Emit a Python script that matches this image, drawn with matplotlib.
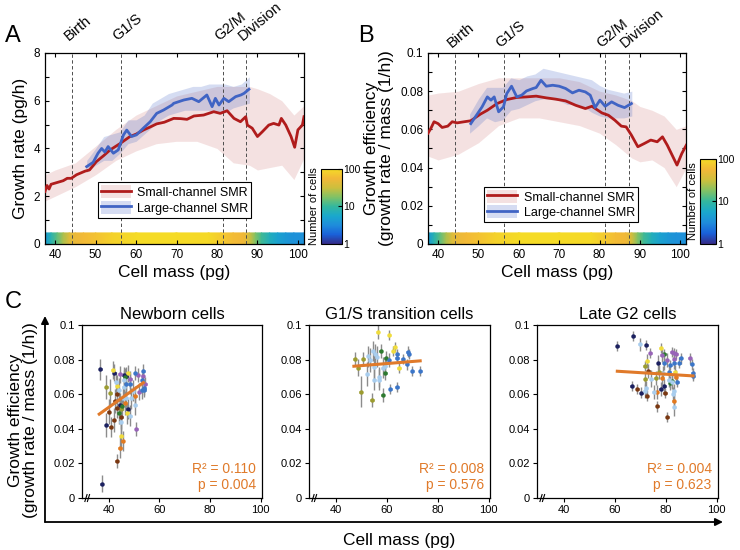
import numpy as np
import matplotlib
matplotlib.use("Agg")
import matplotlib.pyplot as plt
from matplotlib.colors import LinearSegmentedColormap, LogNorm
from matplotlib.cm import ScalarMappable
from matplotlib.patches import Patch, FancyArrowPatch
from matplotlib.lines import Line2D

plt.rcParams['font.family'] = ['Liberation Sans', 'DejaVu Sans']
plt.rcParams['axes.linewidth'] = 0.9

# cell-cycle landmarks
phase_names = ['Birth', 'G1/S', 'G2/M', 'Division']
phase_mass = [44.2, 56.3, 81.4, 87.2]

# number of cells along the mass axis (colour strip)
strip_mass = [37.5, 39.0, 40.5, 42.0, 43.5, 45.0, 47.0, 50.0, 54.0, 60.0, 70.0, 78.0,
              81.0, 84.0, 86.5, 88.0, 89.5, 91.0, 93.0, 95.0, 97.0, 99.0, 101.5]
strip_cells = [4, 8, 14, 25, 40, 50, 58, 65, 85, 100, 100, 95,
               75, 60, 55, 35, 18, 11, 7, 5, 4, 3.5, 3.5]

# A: growth rate (pg/h)
red_a_x = [37.5, 38, 38.5, 39, 40, 41, 42, 43, 44, 45.3, 46, 47.4, 48.5, 50.2, 52, 53.6, 56,
           58.5, 60, 61.8, 63.5, 65.1, 67, 69.3, 71, 72.6, 74.3, 76.7, 79.2, 80.8, 82.5, 84.2,
           85.8, 87.1, 87.5, 88.7, 90.0, 91.2, 92.8, 94.0, 95.3, 95.9, 97.0, 98.3, 99.2, 100.0,
           101.1, 101.5]
red_a_y = [2.2, 2.45, 2.3, 2.5, 2.55, 2.6, 2.65, 2.75, 2.75, 2.9, 2.95, 3.05, 3.1, 3.45, 3.7,
           3.94, 4.2, 4.5, 4.6, 4.77, 4.9, 5.03, 5.1, 5.26, 5.25, 5.22, 5.36, 5.4, 5.54, 5.47,
           5.58, 5.26, 5.12, 5.33, 4.98, 4.85, 4.5, 4.7, 4.98, 5.05, 4.98, 5.26, 4.98, 4.5,
           4.05, 4.78, 4.98, 5.33]
band_x = [37.5, 40, 45, 50, 55, 60, 65, 70, 75, 80, 84, 88, 90, 93, 96, 99, 101.5]
red_a_lo = [1.8, 2.0, 2.4, 2.9, 3.5, 3.9, 4.2, 4.3, 4.3, 4.0, 3.4, 3.3, 3.1, 3.2, 3.3, 2.7, 3.6]
red_a_hi = [2.9, 3.1, 3.4, 4.1, 4.8, 5.4, 5.8, 6.2, 6.4, 6.6, 6.6, 6.6, 6.5, 6.3, 6.0, 5.4, 5.8]

blue_a_x = [47.8, 49.4, 50.6, 51.5, 52.3, 53.1, 54.4, 55.6, 56.9, 57.7, 58.9, 60.1, 61.8, 63.5,
            65.1, 66.8, 68.9, 69.3, 71.8, 73.8, 75.5, 77.5, 78.8, 79.6, 80.5, 81.7, 82.9, 84.6,
            85.9, 86.7, 87.9]
blue_a_y = [3.24, 3.42, 3.8, 4.0, 3.85, 4.08, 3.8, 3.94, 4.57, 4.77, 4.5, 4.57, 4.85, 5.12,
            5.47, 5.61, 5.82, 5.89, 6.03, 6.1, 5.96, 6.24, 5.75, 6.1, 5.82, 6.1, 5.96, 6.17,
            6.24, 6.31, 6.48]
blue_band_x = [47.8, 50, 52, 54, 56, 58, 60, 62, 64, 66, 68, 70, 72, 74, 76, 78, 80, 82, 84, 86, 88]
blue_a_lo = [3.0, 3.3, 3.5, 3.5, 3.8, 4.2, 4.3, 4.6, 4.9, 5.2, 5.4, 5.5, 5.6, 5.6, 5.6, 5.6,
             5.5, 5.5, 5.7, 5.8, 5.9]
blue_a_hi = [3.5, 4.0, 4.5, 4.6, 4.7, 5.2, 5.2, 5.4, 5.9, 6.1, 6.3, 6.4, 6.5, 6.6, 6.6, 6.7,
             6.7, 6.7, 6.6, 6.7, 7.0]

# B: growth efficiency (1/h)
red_b_x = [37.5, 38.2, 39, 40, 41, 42.4, 43.5, 44.7, 46.5, 48.1, 50.5, 52.2, 54.6, 57, 59.5,
           61.9, 64.3, 66.8, 69.2, 71.6, 74.1, 76.5, 78.1, 80.6, 82.2, 83.8, 85.4, 86.6, 87.9,
           89.5, 91.1, 92.7, 94.3, 95.6, 96.8, 98.0, 99.2, 100.4, 101.5]
red_b_y = [0.058, 0.0605, 0.064, 0.063, 0.061, 0.0617, 0.064, 0.0634, 0.064, 0.0645, 0.068,
           0.070, 0.0735, 0.0756, 0.0767, 0.077, 0.0774, 0.0765, 0.0758, 0.0749, 0.0726,
           0.0709, 0.0721, 0.0686, 0.0674, 0.0648, 0.0617, 0.0613, 0.057, 0.0509, 0.0526,
           0.0544, 0.0535, 0.0561, 0.0517, 0.0465, 0.0413, 0.0474, 0.0517]
red_b_lo = [0.046, 0.044, 0.047, 0.053, 0.062, 0.066, 0.066, 0.064, 0.062, 0.058, 0.052,
            0.045, 0.043, 0.044, 0.040, 0.030, 0.040]
red_b_hi = [0.078, 0.079, 0.080, 0.084, 0.087, 0.087, 0.087, 0.087, 0.085, 0.080, 0.078,
            0.075, 0.072, 0.070, 0.067, 0.060, 0.062]

blue_b_x = [48.1, 49.7, 50.9, 52.2, 53.1, 53.9, 55.0, 56.2, 57.0, 58.2, 59.5, 60.7, 61.9, 63.5,
            64.3, 65.5, 66.8, 68.4, 70.0, 71.6, 73.3, 74.9, 76.5, 77.7, 78.9, 80.1, 81.4, 83.0,
            84.6, 86.2, 87.9]
blue_b_y = [0.063, 0.068, 0.0718, 0.077, 0.0753, 0.077, 0.0692, 0.0718, 0.0787, 0.0826, 0.077,
            0.0779, 0.0801, 0.0814, 0.0819, 0.0857, 0.0826, 0.0831, 0.0826, 0.0814, 0.0791,
            0.0805, 0.0796, 0.0779, 0.0714, 0.0753, 0.0721, 0.0744, 0.0726, 0.0714, 0.0735]
blue_b_lo = [0.058, 0.062, 0.066, 0.064, 0.065, 0.070, 0.071, 0.073, 0.075, 0.076, 0.076,
             0.075, 0.073, 0.073, 0.072, 0.069, 0.067, 0.066, 0.066, 0.066, 0.067]
blue_b_hi = [0.068, 0.076, 0.082, 0.082, 0.082, 0.087, 0.086, 0.088, 0.089, 0.092, 0.091,
             0.090, 0.089, 0.088, 0.087, 0.086, 0.083, 0.081, 0.080, 0.079, 0.080]

# C: single cells, newborn
nb_mass = [36.7, 37.3, 39.0, 39.0, 40.6, 40.9, 40.0, 41.7, 42.2, 42.1, 43.3, 44.5, 45.0, 45.6,
           43.0, 43.5, 44.0, 43.3, 44.0, 43.3, 45.0, 44.5, 44.8, 45.0, 45.2, 44.5, 46.0, 46.5,
           47.0, 47.5, 47.0, 46.0, 46.0, 46.5, 47.5, 47.3, 48.5, 47.0, 48.5, 48.5, 49.0, 50.5,
           50.5, 50.5, 51.5, 51.0, 52.0, 53.0, 53.7, 53.5, 53.3, 54.0, 54.5, 54.0, 49.5, 45.5, 42.5]
nb_eff = [0.0744, 0.0083, 0.0420, 0.0640, 0.0606, 0.0410, 0.0500, 0.0740, 0.0725, 0.0450,
          0.0215, 0.0290, 0.0360, 0.0330, 0.0670, 0.0650, 0.0625, 0.0600, 0.0490, 0.0520,
          0.0515, 0.0540, 0.0440, 0.0470, 0.0530, 0.0715, 0.0710, 0.0700, 0.0708, 0.0720,
          0.0660, 0.0680, 0.0640, 0.0550, 0.0514, 0.0490, 0.0477, 0.0580, 0.0660, 0.0687,
          0.0577, 0.0590, 0.0540, 0.0725, 0.0710, 0.0398, 0.0615, 0.0625, 0.0735, 0.0706,
          0.0680, 0.0637, 0.0660, 0.0625, 0.0620, 0.0580, 0.0560]
nb_err = [0.006, 0.005, 0.007, 0.007, 0.008, 0.006, 0.007, 0.005, 0.005, 0.007, 0.004, 0.006,
          0.008, 0.006, 0.006, 0.006, 0.007, 0.007, 0.006, 0.006, 0.007, 0.007, 0.007, 0.007,
          0.006, 0.005, 0.005, 0.005, 0.005, 0.005, 0.006, 0.006, 0.006, 0.007, 0.006, 0.006,
          0.006, 0.007, 0.006, 0.005, 0.006, 0.006, 0.006, 0.004, 0.004, 0.004, 0.005, 0.005,
          0.004, 0.004, 0.004, 0.004, 0.004, 0.004, 0.006, 0.007, 0.007]
nb_group = ['navy', 'navy', 'navy', 'olv', 'olv', 'brn', 'brn', 'yel', 'navy', 'brn', 'brn',
            'org', 'yel', 'org', 'lbl', 'yel', 'lbl', 'brn', 'grn', 'brn', 'olv', 'navy', 'lbl',
            'brn', 'grn', 'pur', 'navy', 'grn', 'navy', 'yel', 'blu', 'lbl', 'lbl', 'org', 'navy',
            'yel', 'lbl', 'lbl', 'blu', 'pur', 'lbl', 'org', 'lbl', 'blu', 'pur', 'pur', 'pur',
            'blu', 'blu', 'pur', 'blu', 'blu', 'pur', 'blu', 'lbl', 'lbl', 'brn']
nb_fit_x = [36.3, 53.7]
nb_fit_y = [0.0485, 0.0667]

# C: G1/S transition
g1_mass = [47.5, 48.8, 49.7, 50.8, 52.3, 54.2, 52.7, 53.6, 54.4, 55.4, 55.0, 55.0, 57.1, 57.1,
           56.0, 56.5, 57.6, 58.4, 58.4, 59.3, 59.4, 59.6, 60.7, 61.3, 61.0, 62.6, 63.2, 64.0,
           64.0, 64.2, 64.8, 66.2, 67.8, 68.2, 68.7, 70.0, 73.1]
g1_eff = [0.0803, 0.0754, 0.0615, 0.0803, 0.0716, 0.0569, 0.0820, 0.0800, 0.0850, 0.0830,
          0.0758, 0.0685, 0.0700, 0.0685, 0.0816, 0.0961, 0.0850, 0.0598, 0.0754, 0.0762,
          0.0725, 0.0812, 0.0800, 0.0629, 0.0944, 0.0849, 0.0874, 0.0642, 0.0812, 0.0830,
          0.0754, 0.0805, 0.0772, 0.0847, 0.0832, 0.0735, 0.0735]
g1_err = [0.004, 0.005, 0.009, 0.004, 0.007, 0.004, 0.006, 0.007, 0.006, 0.006, 0.007, 0.006,
          0.006, 0.006, 0.006, 0.004, 0.004, 0.004, 0.006, 0.005, 0.004, 0.004, 0.004, 0.003,
          0.003, 0.003, 0.003, 0.003, 0.003, 0.003, 0.003, 0.003, 0.003, 0.003, 0.003, 0.003, 0.003]
g1_group = ['olv', 'olv', 'olv', 'olv', 'lbl', 'olv', 'lbl', 'lbl', 'lbl', 'lbl', 'lbl', 'lbl',
            'lbl', 'lbl', 'lbl', 'yel', 'grn', 'grn', 'lbl', 'lbl', 'grn', 'grn', 'blu', 'blu',
            'yel', 'yel', 'yel', 'blu', 'blu', 'blu', 'yel', 'blu', 'blu', 'blu', 'blu', 'blu', 'blu']
g1_fit_x = [47.1, 73.1]
g1_fit_y = [0.0762, 0.0793]

# C: late G2
g2_mass = [61.0, 67.2, 69.8, 72.3, 66.6, 68.8, 70.3, 72.6, 71.7, 72.4, 71.9, 71.8, 72.7, 73.9,
           74.4, 76.1, 73.2, 75.2, 76.5, 76.6, 78.0, 77.1, 78.0, 77.4, 78.4, 79.3, 78.6, 78.9,
           79.5, 80.4, 79.5, 79.7, 80.6, 81.7, 81.1, 81.4, 81.7, 82.3, 83.3, 83.3, 83.3, 82.3,
           82.4, 83.2, 82.9, 83.1, 83.3, 83.5, 83.9, 84.6, 84.2, 85.3, 85.8, 89.4, 90.1, 90.6, 90.7]
g2_eff = [0.0880, 0.0936, 0.0888, 0.0884, 0.0646, 0.0629, 0.0610, 0.0592, 0.0620, 0.0638,
          0.0687, 0.0764, 0.0793, 0.0840, 0.0690, 0.0694, 0.0733, 0.0613, 0.0613, 0.0530,
          0.0630, 0.0778, 0.0868, 0.0729, 0.0826, 0.0830, 0.0694, 0.0723, 0.0778, 0.0797,
          0.0650, 0.0607, 0.0468, 0.0667, 0.0680, 0.0729, 0.0768, 0.0845, 0.0836, 0.0803,
          0.0778, 0.0671, 0.0677, 0.0617, 0.0603, 0.0561, 0.0526, 0.0729, 0.0700, 0.0671,
          0.0832, 0.0783, 0.0807, 0.0807, 0.0772, 0.0720, 0.0706]
g2_err = [0.003, 0.003, 0.004, 0.003, 0.003, 0.003, 0.003, 0.003, 0.004, 0.004, 0.004, 0.003,
          0.004, 0.003, 0.005, 0.004, 0.004, 0.004, 0.004, 0.003, 0.004, 0.005, 0.003, 0.004,
          0.004, 0.003, 0.004, 0.004, 0.004, 0.004, 0.004, 0.003, 0.003, 0.004, 0.004, 0.004,
          0.003, 0.003, 0.003, 0.003, 0.003, 0.004, 0.004, 0.004, 0.004, 0.004, 0.005, 0.004,
          0.004, 0.003, 0.003, 0.003, 0.003, 0.003, 0.003, 0.003, 0.003]
g2_group = ['navy', 'navy', 'lbl', 'navy', 'navy', 'brn', 'navy', 'brn', 'lbl', 'lbl', 'olv',
            'olv', 'yel', 'pur', 'lbl', 'olv', 'brn', 'lbl', 'org', 'brn', 'navy', 'navy', 'yel',
            'olv', 'pur', 'grn', 'org', 'lbl', 'blu', 'pur', 'navy', 'brn', 'brn', 'grn', 'lbl',
            'blu', 'blu', 'pur', 'pur', 'pur', 'blu', 'lbl', 'grn', 'lbl', 'lbl', 'org', 'lbl',
            'yel', 'org', 'blu', 'pur', 'blu', 'blu', 'pur', 'blu', 'blu', 'blu']
g2_fit_x = [61.0, 90.7]
g2_fit_y = [0.0733, 0.0706]

# colours
red = '#b01c1c'
blue = '#4064c4'
fit_col = '#e07a2a'
palette = {'navy': '#1c2160', 'yel': '#f0dc3c', 'olv': '#9c9c30', 'grn': '#2e7a30',
           'brn': '#7a3812', 'org': '#e27a20', 'pur': '#9864b8', 'lbl': '#a8cdee',
           'blu': '#3c76c8'}
parula = LinearSegmentedColormap.from_list('parula', [
    (0.208, 0.166, 0.529), (0.10, 0.38, 0.85), (0.12, 0.55, 0.86),
    (0.10, 0.66, 0.80), (0.20, 0.72, 0.62), (0.50, 0.76, 0.40),
    (0.80, 0.75, 0.24), (0.95, 0.72, 0.22), (0.96, 0.86, 0.15)])
norm = LogNorm(1, 100)

fig = plt.figure(figsize=(7.4, 5.5), dpi=100)


def draw_trace(ax, cax, red_x, red_y, red_lo, red_hi, blue_x, blue_y, blue_lo, blue_hi,
               ymax, ystep, ylabel, leg_xy, label_y):
    ax.fill_between(band_x, red_lo, red_hi, color=red, alpha=0.13, lw=0, zorder=1)
    ax.fill_between(blue_band_x, blue_lo, blue_hi, color=blue, alpha=0.22, lw=0, zorder=2)
    n = len(strip_mass)
    X = np.array([strip_mass, strip_mass])
    Y = np.array([np.zeros(n), np.full(n, ymax * 0.058)])
    C = np.array([strip_cells, strip_cells])
    ax.pcolormesh(X, Y, C, cmap=parula, norm=norm, shading='gouraud', zorder=0.5)
    for m, name in zip(phase_mass, phase_names):
        ax.axvline(m, color='0.3', lw=0.7, ls=(0, (3.5, 2.5)), zorder=3)
        ax.text(m - 0.9, label_y, name, transform=ax.get_xaxis_transform(), rotation=40,
                rotation_mode='anchor', ha='left', va='baseline', fontsize=10.5)
    ax.plot(red_x, red_y, color=red, lw=2, zorder=4)
    ax.plot(blue_x, blue_y, color=blue, lw=2, zorder=5)

    ax.set_xlim(37.5, 101.5)
    ax.set_ylim(0, ymax)
    ax.set_xticks(range(40, 101, 10))
    nt = int(round(ymax / ystep))
    ticks = [i * ystep for i in range(nt + 1)]
    ax.set_yticks(ticks)
    labs = []
    for i, t in enumerate(ticks):
        if i % 2:
            labs.append('')
        elif t == 0:
            labs.append('0')
        else:
            labs.append(f'{t:.2f}'.rstrip('0').rstrip('.'))
    ax.set_yticklabels(labs)
    ax.tick_params(direction='in', top=True, right=True, length=3, width=0.8, labelsize=8.5)
    ax.set_xlabel('Cell mass (pg)', fontsize=12.5, labelpad=3)
    ax.set_ylabel(ylabel, fontsize=12.5, linespacing=1.05)

    handles = [(Patch(facecolor=red, alpha=0.13, lw=0), Line2D([], [], color=red, lw=2)),
               (Patch(facecolor=blue, alpha=0.22, lw=0), Line2D([], [], color=blue, lw=2))]
    leg = ax.legend(handles, ['Small-channel SMR', 'Large-channel SMR'], loc='center',
                    bbox_to_anchor=leg_xy, fontsize=9, fancybox=False, edgecolor='k',
                    framealpha=1, handlelength=2.4, handleheight=1.2, borderpad=0.25,
                    labelspacing=0.15, handletextpad=0.5, borderaxespad=0)
    leg.get_frame().set_linewidth(0.8)

    cb = fig.colorbar(ScalarMappable(norm=norm, cmap=parula), cax=cax)
    cb.set_ticks([1, 10, 100])
    cb.set_ticklabels(['1', '10', '100'])
    cb.ax.minorticks_off()
    cb.ax.tick_params(direction='in', length=3, width=0.8, labelsize=7.5, pad=1)
    cb.set_label('Number of cells', fontsize=8, labelpad=1.5)
    cb.ax.yaxis.set_label_position('left')
    cb.outline.set_linewidth(0.8)


def draw_scatter(ax, mass, eff, err, group, fit_x, fit_y, r2, pval, title):
    mass = np.array(mass)
    eff = np.array(eff)
    group = np.array(group)
    ax.errorbar(mass, eff, yerr=err, fmt='none', ecolor='0.55', elinewidth=1.0, zorder=2)
    for key, col in palette.items():
        sel = group == key
        if sel.any():
            ax.errorbar(mass[sel], eff[sel], xerr=0.6, fmt='o', ms=3.2, mew=0, color=col,
                        elinewidth=1.8, capsize=0, zorder=3)
    ax.plot(fit_x, fit_y, color=fit_col, lw=2.2, zorder=4)
    ax.set_xlim(29.5, 100.5)
    ax.set_ylim(0, 0.1)
    ax.set_xticks([40, 60, 80, 100])
    ax.set_yticks([0, 0.02, 0.04, 0.06, 0.08, 0.1])
    ax.set_yticklabels(['0', '0.02', '0.04', '0.06', '0.08', '0.1'])
    ax.tick_params(direction='out', length=3, width=0.8, labelsize=8, pad=2)
    ax.set_title(title, fontsize=12, pad=4)
    ax.text(0.965, 0.17, 'R² = ' + r2, transform=ax.transAxes, ha='right', va='center',
            color=fit_col, fontsize=10)
    ax.text(0.965, 0.075, 'p = ' + pval, transform=ax.transAxes, ha='right', va='center',
            color=fit_col, fontsize=10)
    # axis break
    for dx in (0.0, 0.014):
        ax.plot([0.016 + dx, 0.028 + dx], [-0.02, 0.02], transform=ax.transAxes,
                color='k', lw=0.8, clip_on=False)


axA = fig.add_axes([0.0608, 0.5564, 0.35, 0.3473])
caxA = fig.add_axes([0.4338, 0.5564, 0.0284, 0.1364])
axB = fig.add_axes([0.5784, 0.5564, 0.349, 0.3473])
caxB = fig.add_axes([0.946, 0.5564, 0.021, 0.1545])

draw_trace(axA, caxA, red_a_x, red_a_y, red_a_lo, red_a_hi, blue_a_x, blue_a_y,
           blue_a_lo, blue_a_hi, 8, 1, 'Growth rate (pg/h)', (0.5, 0.23), 1.065)
draw_trace(axB, caxB, red_b_x, red_b_y, red_b_lo, red_b_hi, blue_b_x, blue_b_y,
           blue_b_lo, blue_b_hi, 0.1, 0.01, 'Growth efficiency\n(growth rate / mass (1/h))',
           (0.515, 0.207), 1.025)

axC1 = fig.add_axes([0.1108, 0.0945, 0.2432, 0.3145])
axC2 = fig.add_axes([0.4176, 0.0945, 0.2446, 0.3145])
axC3 = fig.add_axes([0.7257, 0.0945, 0.2446, 0.3145])
draw_scatter(axC1, nb_mass, nb_eff, nb_err, nb_group, nb_fit_x, nb_fit_y, '0.110', '0.004',
             'Newborn cells')
draw_scatter(axC2, g1_mass, g1_eff, g1_err, g1_group, g1_fit_x, g1_fit_y, '0.008', '0.576',
             'G1/S transition cells')
draw_scatter(axC3, g2_mass, g2_eff, g2_err, g2_group, g2_fit_x, g2_fit_y, '0.004', '0.623',
             'Late G2 cells')

# shared axes arrows and labels for C
fig.add_artist(FancyArrowPatch((0.0608, 0.0509), (0.0608, 0.4255), transform=fig.transFigure,
                               arrowstyle='-|>', mutation_scale=11, lw=1.3, color='k',
                               shrinkA=0, shrinkB=0))
fig.add_artist(FancyArrowPatch((0.0608, 0.0509), (0.977, 0.0509), transform=fig.transFigure,
                               arrowstyle='-|>', mutation_scale=11, lw=1.3, color='k',
                               shrinkA=0, shrinkB=0))
fig.text(0.031, 0.236, 'Growth efficiency\n(growth rate / mass (1/h))', rotation=90,
         ha='center', va='center', fontsize=12.5, linespacing=1.05, multialignment='center')
fig.text(0.54, 0.018, 'Cell mass (pg)', ha='center', va='center', fontsize=12.5)

fig.text(0.007, 0.924, 'A', fontsize=17, va='baseline')
fig.text(0.484, 0.924, 'B', fontsize=17, va='baseline')
fig.text(0.007, 0.44, 'C', fontsize=17, va='baseline')

fig.savefig('out.png', dpi=100)
